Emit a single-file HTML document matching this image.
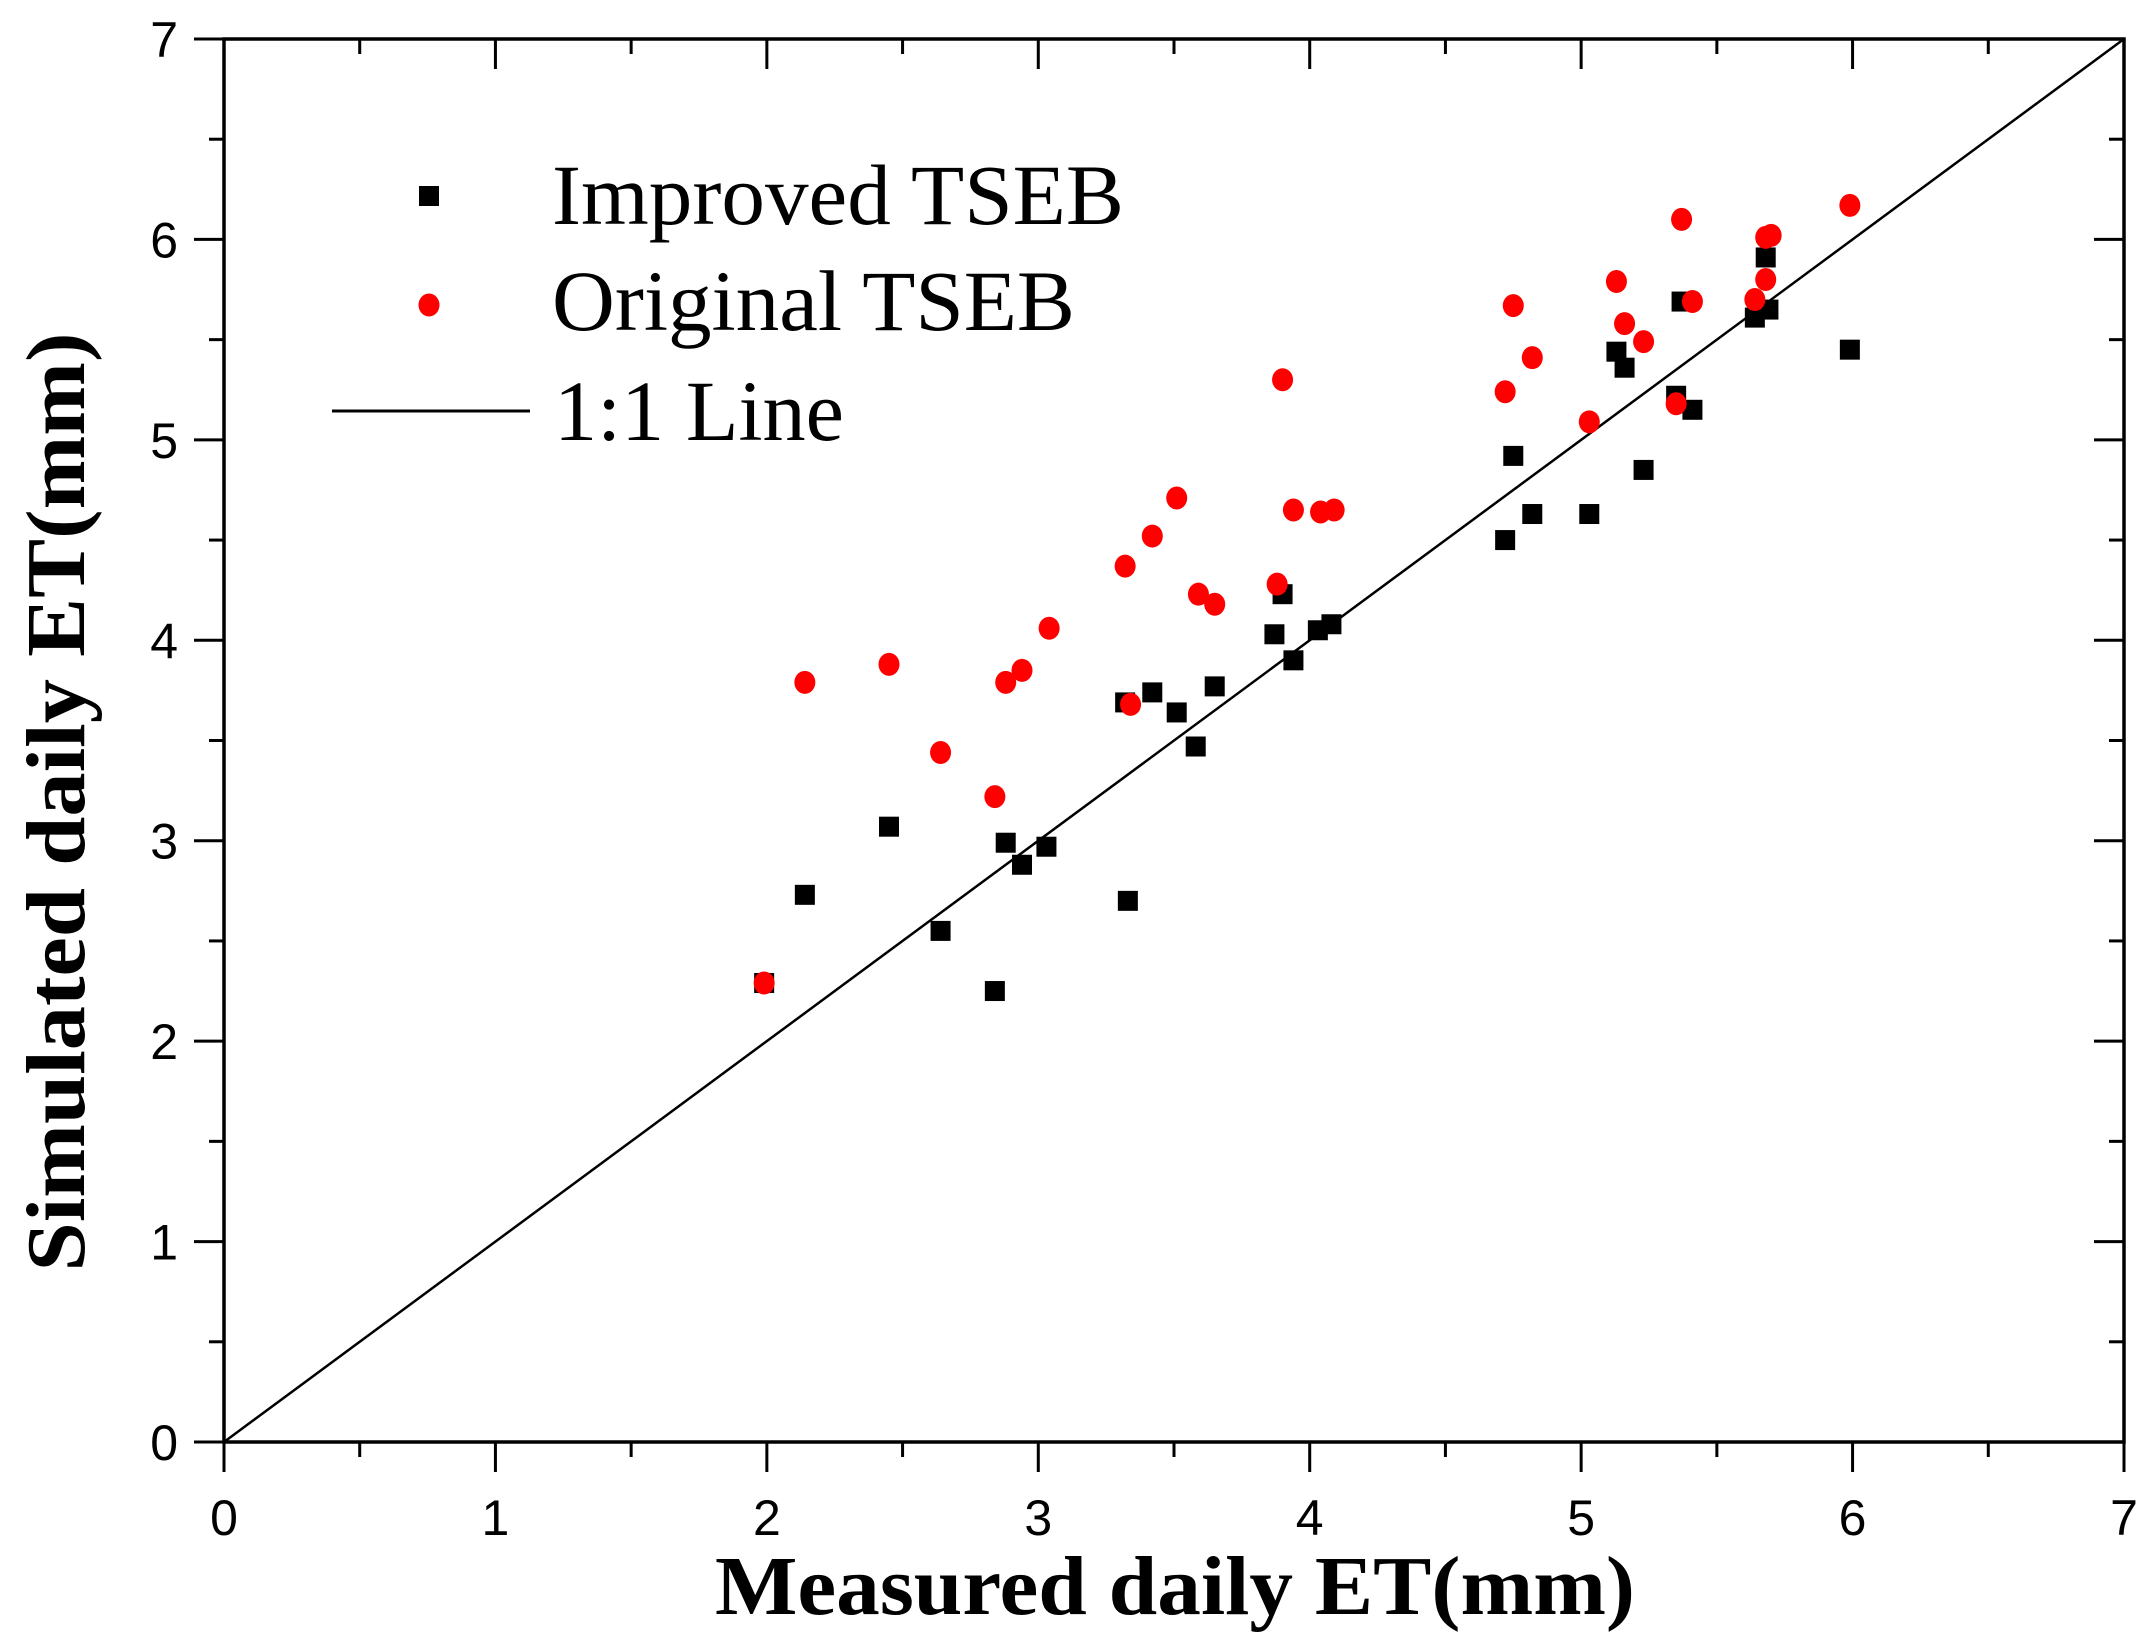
<!DOCTYPE html>
<html><head><meta charset="utf-8"><style>html,body{margin:0;padding:0;background:#fff}svg{display:block}</style></head>
<body>
<svg id="chart" width="2149" height="1645" viewBox="0 0 2149 1645" xmlns="http://www.w3.org/2000/svg">
<g id="marks"></g>
</svg>
<script>
const improvedX=[1.99,2.14,2.45,2.64,2.84,2.88,2.94,3.03,3.32,3.33,3.42,3.51,3.58,3.65,3.87,3.90,3.94,4.03,4.08,4.72,4.75,4.82,5.03,5.13,5.16,5.23,5.35,5.37,5.41,5.64,5.68,5.69,5.99];
const improvedY=[2.29,2.73,3.07,2.55,2.25,2.99,2.88,2.97,3.69,2.70,3.74,3.64,3.47,3.77,4.03,4.23,3.90,4.05,4.08,4.50,4.92,4.63,4.63,5.44,5.36,4.85,5.22,5.69,5.15,5.61,5.91,5.65,5.45];
const originalX=[1.99,2.14,2.45,2.64,2.84,2.88,2.94,3.04,3.32,3.34,3.42,3.51,3.59,3.65,3.88,3.90,3.94,4.04,4.09,4.72,4.75,4.82,5.03,5.13,5.16,5.23,5.35,5.37,5.41,5.64,5.68,5.68,5.70,5.99];
const originalY=[2.29,3.79,3.88,3.44,3.22,3.79,3.85,4.06,4.37,3.68,4.52,4.71,4.23,4.18,4.28,5.30,4.65,4.64,4.65,5.24,5.67,5.41,5.09,5.79,5.58,5.49,5.18,6.10,5.69,5.70,6.01,5.80,6.02,6.17];
const xTicks=[0,1,2,3,4,5,6,7];
const yTicks=[0,1,2,3,4,5,6,7];

const NS="http://www.w3.org/2000/svg";
const L=224,R=2124,T=39,B=1442;
const sx=v=>L+(v-0)/7*(R-L);
const sy=v=>B-(v-0)/7*(B-T);
const g=document.getElementById('marks');
function mk(tag,attrs,parent){const e=document.createElementNS(NS,tag);for(const k in attrs)e.setAttribute(k,attrs[k]);(parent||g).appendChild(e);return e;}

let ln=mk('line',{x1:sx(0),y1:sy(0),x2:sx(7),y2:sy(7),stroke:'#000','stroke-width':2.5});



let fr=mk('rect',{x:L,y:T,width:R-L,height:B-T,fill:'none',stroke:'#000','stroke-width':3.5});



for(let i=0;i<=14;i++){
  const v=i/2, major=i%2===0, len=major?30:15;
  const x=sx(v), y=sy(v);
  let t1=mk('line',{x1:x,y1:B,x2:x,y2:B+len,stroke:'#000','stroke-width':3});
  
  
  let t2=mk('line',{x1:x,y1:T,x2:x,y2:T+len,stroke:'#000','stroke-width':3});
  
  
  let t3=mk('line',{x1:L,y1:y,x2:L-len,y2:y,stroke:'#000','stroke-width':3});
  
  
  let t4=mk('line',{x1:R,y1:y,x2:R-len,y2:y,stroke:'#000','stroke-width':3});
  
  
}
xTicks.forEach(v=>{
  let t=mk('text',{x:sx(v),y:1535,'text-anchor':'middle','font-family':'Liberation Sans, sans-serif','font-size':50,fill:'#000'});
  t.textContent=v;
  
  
});
yTicks.forEach(v=>{
  let t=mk('text',{x:178,y:sy(v)+18,'text-anchor':'end','font-family':'Liberation Sans, sans-serif','font-size':50,fill:'#000'});
  t.textContent=v;
  
  
});

improvedX.forEach((xv,i)=>{
  let r=mk('rect',{x:sx(xv)-10,y:sy(improvedY[i])-10,width:20,height:20,fill:'#000'});
  
  
});
originalX.forEach((xv,i)=>{
  let c=mk('ellipse',{cx:sx(xv),cy:sy(originalY[i]),rx:10.5,ry:11.5,fill:'#f00'});
  
  
});

let lg=mk('g',{});


let ls=mk('rect',{x:419,y:186,width:20,height:20,fill:'#000'},lg);


let lt1=mk('text',{x:552,y:224,'font-family':'Liberation Serif, serif','font-size':86,textLength:572,lengthAdjust:'spacingAndGlyphs',fill:'#000'},lg);
lt1.textContent='Improved TSEB';


let lc=mk('ellipse',{cx:429,cy:305,rx:10.5,ry:11.5,fill:'#f00'},lg);


let lt2=mk('text',{x:552,y:330,'font-family':'Liberation Serif, serif','font-size':86,textLength:523,lengthAdjust:'spacingAndGlyphs',fill:'#000'},lg);
lt2.textContent='Original TSEB';


let ll=mk('line',{x1:332,y1:411,x2:530,y2:411,stroke:'#000','stroke-width':3},lg);


let lt3=mk('text',{x:554,y:440,'font-family':'Liberation Serif, serif','font-size':86,textLength:290,lengthAdjust:'spacingAndGlyphs',fill:'#000'},lg);
lt3.textContent='1:1 Line';



let xt=mk('text',{x:1175,y:1614,'text-anchor':'middle','font-family':'Liberation Serif, serif','font-weight':'bold','font-size':84,textLength:920,lengthAdjust:'spacingAndGlyphs',fill:'#000'});
xt.textContent='Measured daily ET(mm)';


let yt=mk('text',{x:0,y:0,'text-anchor':'middle','font-family':'Liberation Serif, serif','font-weight':'bold','font-size':84,textLength:939,lengthAdjust:'spacingAndGlyphs',fill:'#000',transform:'translate(84,802) rotate(-90)'});
yt.textContent='Simulated daily ET(mm)';


</script>
</body></html>
